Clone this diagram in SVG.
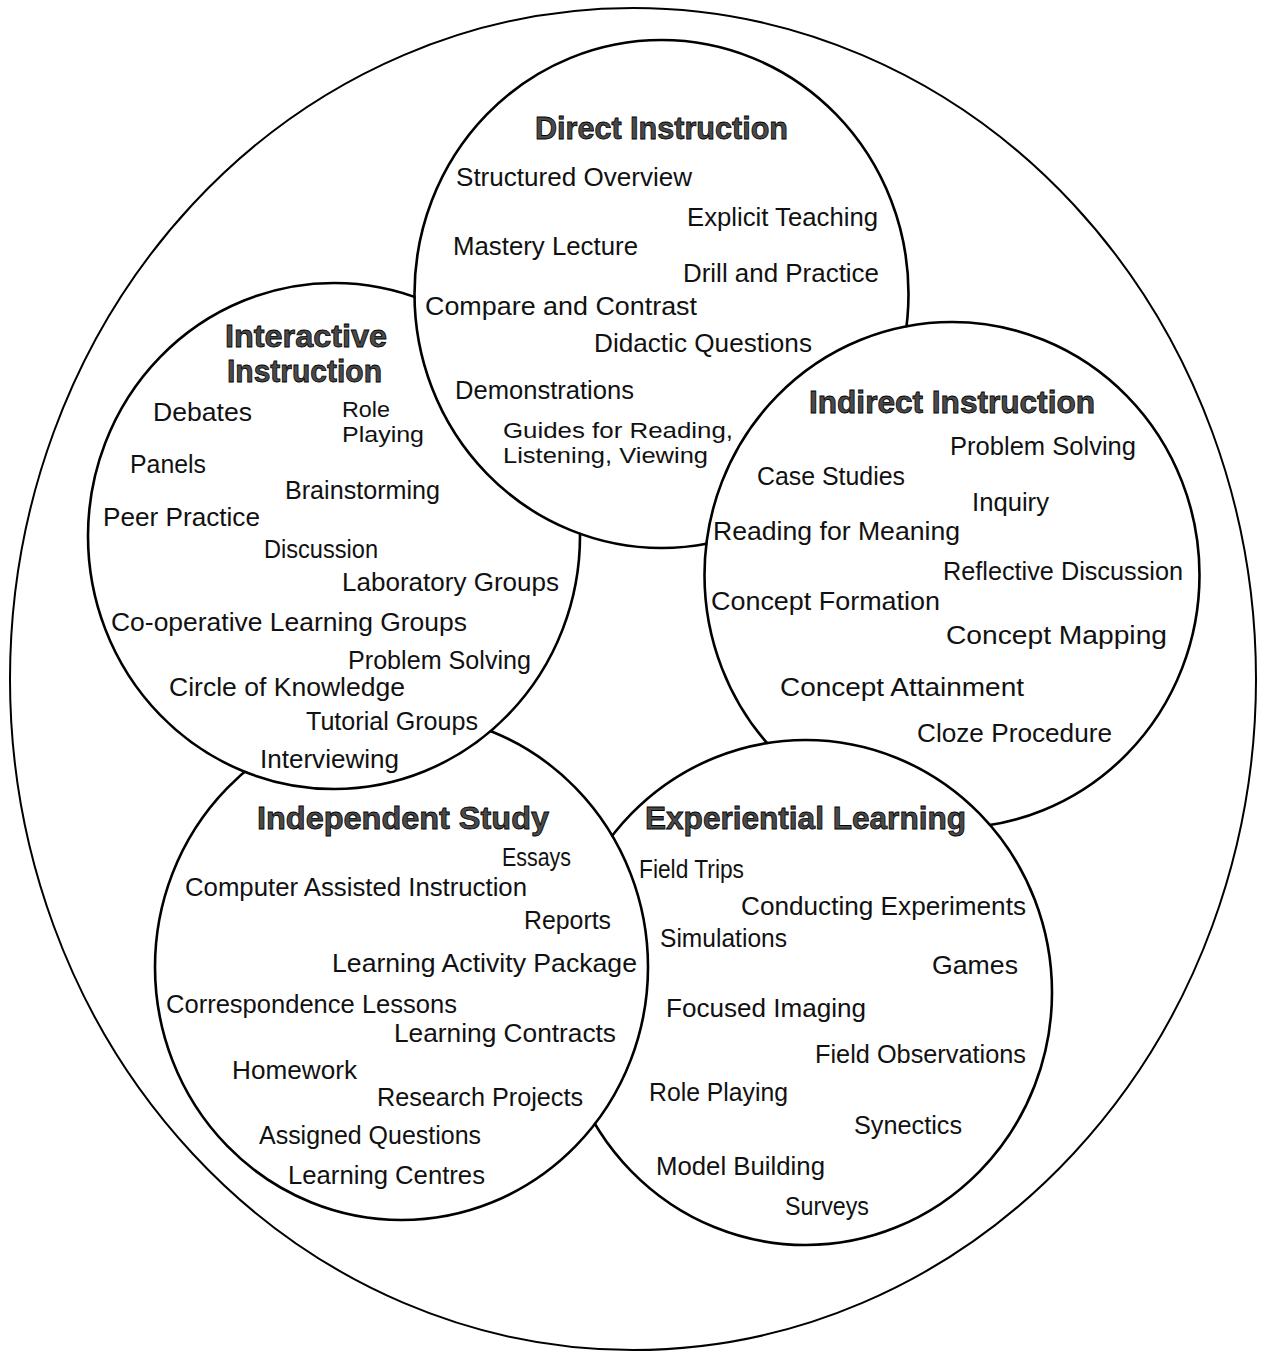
<svg xmlns="http://www.w3.org/2000/svg" width="1263" height="1354" viewBox="0 0 1263 1354">
<style>
.c{fill:none;stroke:#000;stroke-width:2.6}
.o{fill:none;stroke:#000;stroke-width:2}
.t{font-family:"Liberation Sans",Arial,sans-serif;font-size:25px;fill:#111}
.s{font-size:22px}
.h{font-family:"Liberation Sans",Arial,sans-serif;font-size:31px;font-weight:bold;fill:#4a4a4a;stroke:#000;stroke-width:0.8}
</style>
<defs>
<mask id="mInteractive" maskUnits="userSpaceOnUse" x="0" y="0" width="1263" height="1354"><rect width="1263" height="1354" fill="#fff"/><ellipse cx="661.5" cy="294" rx="246" ry="253" fill="#000"/></mask>
<mask id="mDirect" maskUnits="userSpaceOnUse" x="0" y="0" width="1263" height="1354"><rect width="1263" height="1354" fill="#fff"/><ellipse cx="952" cy="575" rx="246.5" ry="252" fill="#000"/></mask>
<mask id="mIndirect" maskUnits="userSpaceOnUse" x="0" y="0" width="1263" height="1354"><rect width="1263" height="1354" fill="#fff"/><ellipse cx="805.5" cy="992.5" rx="245.5" ry="251.5" fill="#000"/></mask>
<mask id="mExperiential" maskUnits="userSpaceOnUse" x="0" y="0" width="1263" height="1354"><rect width="1263" height="1354" fill="#fff"/><ellipse cx="401.5" cy="967" rx="245.5" ry="252" fill="#000"/></mask>
<mask id="mIndependent" maskUnits="userSpaceOnUse" x="0" y="0" width="1263" height="1354"><rect width="1263" height="1354" fill="#fff"/><ellipse cx="334" cy="536" rx="245" ry="252" fill="#000"/></mask>
</defs>
<rect width="1263" height="1354" fill="#fff"/>
<g id="outer"><ellipse class="o" cx="633" cy="679" rx="623" ry="671"/></g>
<g id="connectors"></g>
<g id="direct">
<ellipse class="c" cx="661.5" cy="294" rx="247" ry="254" mask="url(#mDirect)"/>
<text class="h" x="535" y="139" textLength="253" lengthAdjust="spacingAndGlyphs">Direct Instruction</text>
<text class="t" x="456" y="186" textLength="236" lengthAdjust="spacingAndGlyphs">Structured Overview</text>
<text class="t" x="687" y="226" textLength="191" lengthAdjust="spacingAndGlyphs">Explicit Teaching</text>
<text class="t" x="453" y="255" textLength="185" lengthAdjust="spacingAndGlyphs">Mastery Lecture</text>
<text class="t" x="683" y="282" textLength="196" lengthAdjust="spacingAndGlyphs">Drill and Practice</text>
<text class="t" x="425" y="315" textLength="272" lengthAdjust="spacingAndGlyphs">Compare and Contrast</text>
<text class="t" x="594" y="352" textLength="218" lengthAdjust="spacingAndGlyphs">Didactic Questions</text>
<text class="t" x="455" y="399" textLength="179" lengthAdjust="spacingAndGlyphs">Demonstrations</text>
<text class="t s" x="503" y="438" textLength="230" lengthAdjust="spacingAndGlyphs">Guides for Reading,</text>
<text class="t s" x="503" y="463" textLength="205" lengthAdjust="spacingAndGlyphs">Listening, Viewing</text>
</g>
<g id="interactive">
<ellipse class="c" cx="334" cy="536" rx="246" ry="253" mask="url(#mInteractive)"/>
<text class="h" x="225" y="347" textLength="162" lengthAdjust="spacingAndGlyphs">Interactive</text>
<text class="h" x="227" y="382" textLength="155" lengthAdjust="spacingAndGlyphs">Instruction</text>
<text class="t" x="153" y="421" textLength="99" lengthAdjust="spacingAndGlyphs">Debates</text>
<text class="t s" x="342" y="417" textLength="48" lengthAdjust="spacingAndGlyphs">Role</text>
<text class="t s" x="342" y="442" textLength="82" lengthAdjust="spacingAndGlyphs">Playing</text>
<text class="t" x="130" y="473" textLength="76" lengthAdjust="spacingAndGlyphs">Panels</text>
<text class="t" x="285" y="499" textLength="155" lengthAdjust="spacingAndGlyphs">Brainstorming</text>
<text class="t" x="103" y="526" textLength="157" lengthAdjust="spacingAndGlyphs">Peer Practice</text>
<text class="t" x="264" y="558" textLength="114" lengthAdjust="spacingAndGlyphs">Discussion</text>
<text class="t" x="342" y="591" textLength="217" lengthAdjust="spacingAndGlyphs">Laboratory Groups</text>
<text class="t" x="111" y="631" textLength="356" lengthAdjust="spacingAndGlyphs">Co-operative Learning Groups</text>
<text class="t" x="348" y="669" textLength="183" lengthAdjust="spacingAndGlyphs">Problem Solving</text>
<text class="t" x="169" y="696" textLength="236" lengthAdjust="spacingAndGlyphs">Circle of Knowledge</text>
<text class="t" x="306" y="730" textLength="172" lengthAdjust="spacingAndGlyphs">Tutorial Groups</text>
<text class="t" x="260" y="768" textLength="139" lengthAdjust="spacingAndGlyphs">Interviewing</text>
</g>
<g id="indirect">
<ellipse class="c" cx="952" cy="575" rx="247.5" ry="253" mask="url(#mIndirect)"/>
<text class="h" x="809" y="413" textLength="286" lengthAdjust="spacingAndGlyphs">Indirect Instruction</text>
<text class="t" x="950" y="455" textLength="186" lengthAdjust="spacingAndGlyphs">Problem Solving</text>
<text class="t" x="757" y="485" textLength="148" lengthAdjust="spacingAndGlyphs">Case Studies</text>
<text class="t" x="972" y="511" textLength="77" lengthAdjust="spacingAndGlyphs">Inquiry</text>
<text class="t" x="713" y="540" textLength="247" lengthAdjust="spacingAndGlyphs">Reading for Meaning</text>
<text class="t" x="943" y="580" textLength="240" lengthAdjust="spacingAndGlyphs">Reflective Discussion</text>
<text class="t" x="711" y="610" textLength="229" lengthAdjust="spacingAndGlyphs">Concept Formation</text>
<text class="t" x="946" y="644" textLength="221" lengthAdjust="spacingAndGlyphs">Concept Mapping</text>
<text class="t" x="780" y="696" textLength="244" lengthAdjust="spacingAndGlyphs">Concept Attainment</text>
<text class="t" x="917" y="742" textLength="195" lengthAdjust="spacingAndGlyphs">Cloze Procedure</text>
</g>
<g id="independent">
<ellipse class="c" cx="401.5" cy="967" rx="246.5" ry="253" mask="url(#mIndependent)"/>
<text class="h" x="257" y="829" textLength="292" lengthAdjust="spacingAndGlyphs">Independent Study</text>
<text class="t" x="502" y="866" textLength="69" lengthAdjust="spacingAndGlyphs">Essays</text>
<text class="t" x="185" y="896" textLength="342" lengthAdjust="spacingAndGlyphs">Computer Assisted Instruction</text>
<text class="t" x="524" y="929" textLength="87" lengthAdjust="spacingAndGlyphs">Reports</text>
<text class="t" x="332" y="972" textLength="305" lengthAdjust="spacingAndGlyphs">Learning Activity Package</text>
<text class="t" x="166" y="1013" textLength="291" lengthAdjust="spacingAndGlyphs">Correspondence Lessons</text>
<text class="t" x="394" y="1042" textLength="222" lengthAdjust="spacingAndGlyphs">Learning Contracts</text>
<text class="t" x="232" y="1079" textLength="125" lengthAdjust="spacingAndGlyphs">Homework</text>
<text class="t" x="377" y="1106" textLength="206" lengthAdjust="spacingAndGlyphs">Research Projects</text>
<text class="t" x="259" y="1144" textLength="222" lengthAdjust="spacingAndGlyphs">Assigned Questions</text>
<text class="t" x="288" y="1184" textLength="197" lengthAdjust="spacingAndGlyphs">Learning Centres</text>
</g>
<g id="experiential">
<ellipse class="c" cx="805.5" cy="992.5" rx="246.5" ry="252.5" mask="url(#mExperiential)"/>
<text class="h" x="645" y="829" textLength="321" lengthAdjust="spacingAndGlyphs">Experiential Learning</text>
<text class="t" x="639" y="878" textLength="105" lengthAdjust="spacingAndGlyphs">Field Trips</text>
<text class="t" x="741" y="915" textLength="285" lengthAdjust="spacingAndGlyphs">Conducting Experiments</text>
<text class="t" x="660" y="947" textLength="127" lengthAdjust="spacingAndGlyphs">Simulations</text>
<text class="t" x="932" y="974" textLength="86" lengthAdjust="spacingAndGlyphs">Games</text>
<text class="t" x="666" y="1017" textLength="200" lengthAdjust="spacingAndGlyphs">Focused Imaging</text>
<text class="t" x="815" y="1063" textLength="211" lengthAdjust="spacingAndGlyphs">Field Observations</text>
<text class="t" x="649" y="1101" textLength="139" lengthAdjust="spacingAndGlyphs">Role Playing</text>
<text class="t" x="854" y="1134" textLength="108" lengthAdjust="spacingAndGlyphs">Synectics</text>
<text class="t" x="656" y="1175" textLength="169" lengthAdjust="spacingAndGlyphs">Model Building</text>
<text class="t" x="785" y="1215" textLength="84" lengthAdjust="spacingAndGlyphs">Surveys</text>
</g>
</svg>
